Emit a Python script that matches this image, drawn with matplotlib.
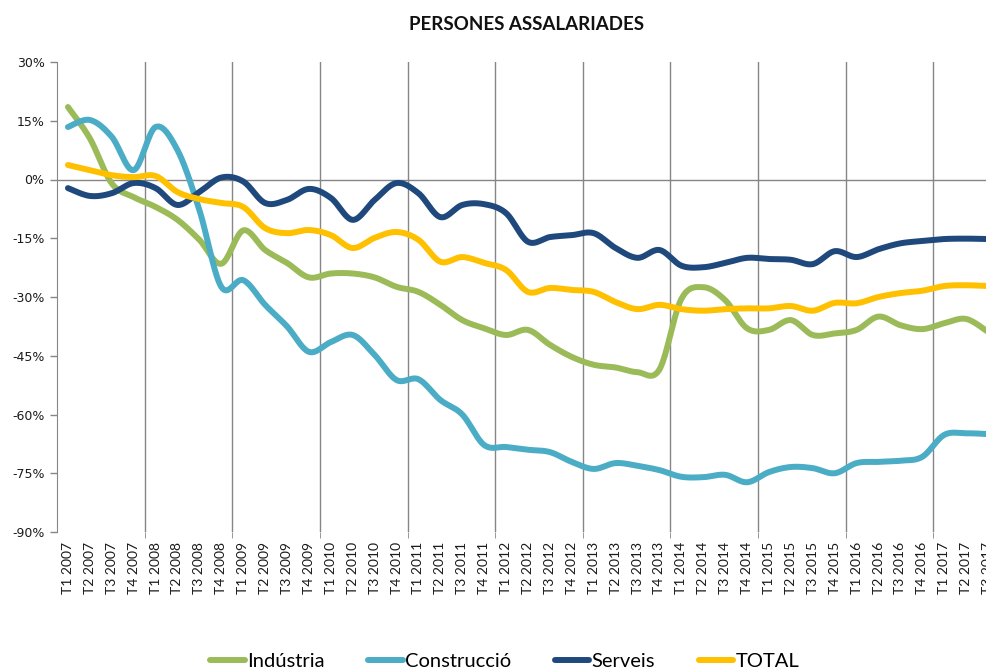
import numpy as np
import matplotlib
matplotlib.use("Agg")
import matplotlib.pyplot as plt
from matplotlib.ticker import FuncFormatter

# quarters T1 2007 .. T3 2017
quarters = ["T%d %d" % (q, y) for y in range(2007, 2018) for q in range(1, 5)][:43]

industria = [18.5, 10.5, -1.0, -4.5, -7.0, -10.3, -15.4, -21.5, -13.0, -18.0,
             -21.3, -25.0, -24.0, -24.0, -25.0, -27.4, -28.7, -32.0, -35.9, -38.0,
             -39.7, -38.4, -42.2, -45.3, -47.3, -48.0, -49.2, -48.5, -30.5, -27.5,
             -30.8, -38.0, -38.4, -35.9, -39.7, -39.3, -38.4, -35.0, -37.2, -38.2,
             -36.7, -35.6, -38.9]
construccio = [13.4, 15.2, 10.9, 2.4, 13.4, 7.5, -7.8, -27.4, -25.7, -32.0,
               -37.5, -44.0, -41.5, -39.7, -44.8, -51.2, -51.0, -56.3, -60.0, -67.8,
               -68.3, -69.0, -69.6, -72.1, -73.9, -72.4, -73.1, -74.2, -75.9, -76.0,
               -75.4, -77.3, -74.7, -73.4, -73.7, -75.0, -72.4, -72.1, -71.8, -70.8,
               -65.2, -64.8, -65.0]
serveis = [-2.2, -4.2, -3.5, -0.9, -2.2, -6.5, -3.2, 0.5, -0.5, -6.0,
           -5.2, -2.4, -4.7, -10.3, -5.2, -0.9, -3.5, -9.6, -6.5, -6.3,
           -8.6, -15.9, -14.7, -14.2, -13.7, -17.5, -20.0, -18.0, -22.0, -22.4,
           -21.3, -20.0, -20.3, -20.5, -21.6, -18.3, -19.8, -17.8, -16.3, -15.7,
           -15.2, -15.1, -15.2]
total = [3.7, 2.4, 1.1, 0.6, 0.9, -3.2, -5.0, -6.0, -7.0, -12.4,
         -13.7, -12.9, -14.2, -17.5, -14.9, -13.4, -15.4, -21.0, -19.8, -21.3,
         -23.1, -28.7, -27.7, -28.2, -28.7, -31.3, -33.1, -32.0, -33.1, -33.5,
         -33.1, -32.9, -32.9, -32.3, -33.5, -31.5, -31.6, -30.0, -29.0, -28.4,
         -27.2, -27.0, -27.2]

series = [("Indústria", industria, "#9BBB59"),
          ("Construcció", construccio, "#4BACC6"),
          ("Serveis", serveis, "#1F497D"),
          ("TOTAL", total, "#FFC000")]


def smooth(y, n=20):
    # excel-like smoothed line (catmull-rom as bezier segments)
    y = np.asarray(y, float)
    x = np.arange(len(y), dtype=float)
    p = np.column_stack([x, y])
    ext = np.vstack([p[0], p, p[-1]])
    out = []
    t = np.linspace(0, 1, n, endpoint=False)[:, None]
    for i in range(len(p) - 1):
        p0, p1, p2, p3 = ext[i], ext[i + 1], ext[i + 2], ext[i + 3]
        c1 = p1 + (p2 - p0) / 6
        c2 = p2 - (p3 - p1) / 6
        seg = (1 - t) ** 3 * p1 + 3 * (1 - t) ** 2 * t * c1 + 3 * (1 - t) * t ** 2 * c2 + t ** 3 * p2
        out.append(seg)
    out.append(p[-1][None, :])
    out = np.vstack(out)
    return out[:, 0], out[:, 1]


fig = plt.figure(figsize=(9.86, 6.71), dpi=100)
ax = fig.add_axes([57 / 986, 1 - 532 / 671, 942 / 986, 470 / 671])

for name, vals, col in series:
    sx, sy = smooth(vals)
    ax.plot(sx, sy, color=col, lw=4.3, label=name, solid_capstyle="round", zorder=3)

ax.axhline(0, color="#868686", lw=1, zorder=1)
ax.set_xlim(-0.5, 42.5)
ax.set_ylim(-90, 30)

ax.set_yticks(np.arange(-90, 31, 15))
ax.yaxis.set_major_formatter(FuncFormatter(lambda v, p: "%d%%" % v))
ax.tick_params(axis="y", direction="out", length=5, width=1, color="#868686",
               pad=4, labelsize=9, labelcolor="#1a1a1a")

ax.set_xticks(np.arange(len(quarters)))
ax.set_xticklabels(quarters, rotation=90, family="Lato", fontsize=10, color="#1a1a1a")
ax.set_xticks(np.arange(3.5, 43, 4), minor=True)
ax.tick_params(axis="x", which="major", length=0, pad=7)
ax.tick_params(axis="x", which="minor", length=4, color="#868686")
ax.grid(which="minor", axis="x", color="#868686", lw=1)

for s in ["top", "right", "bottom"]:
    ax.spines[s].set_visible(False)
ax.spines["left"].set_color("#868686")

fig.text(0.5335, 0.964, "PERSONES ASSALARIADES", ha="center", va="center",
         family="Lato", fontweight="bold", fontsize=13.5, color="#111111")

leg = fig.legend(loc="center", bbox_to_anchor=(0.512, 0.014), ncol=4, frameon=False,
                 prop={"family": "Lato", "size": 14.5}, handlelength=1.7,
                 handletextpad=0.1, columnspacing=2.2)
for h in leg.get_lines():
    h.set_linewidth(4.3)

fig.savefig("out.png", dpi=100)
